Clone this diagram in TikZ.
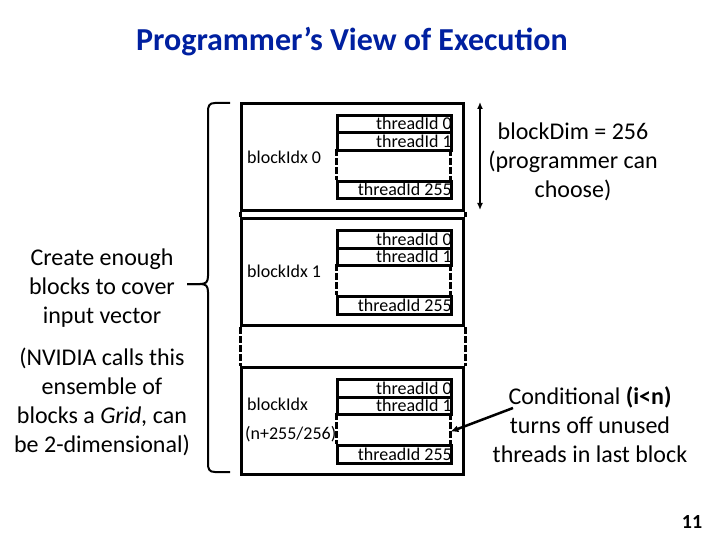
\documentclass[tikz,border=0pt]{standalone}
\usepackage{fontspec}
\setmainfont{Carlito}
\usetikzlibrary{arrows.meta}
\definecolor{titleblue}{RGB}{0,32,160}
\tikzset{
  blk/.style={draw, line width=3pt, inner sep=0pt},
  thr/.style={draw, line width=3pt, inner sep=0pt, minimum width=114, minimum height=17.5},
  gapbox/.style={inner sep=0pt, minimum width=114, minimum height=31},
  dashedside/.style={line width=3pt, dash pattern=on 7pt off 2pt},
  tlabel/.style={inner sep=0pt, anchor=base east, font=\fontsize{18}{21}\selectfont},
  blabel/.style={inner sep=0pt, anchor=west, font=\fontsize{18}{21}\selectfont},
  bigtext/.style={align=center, inner sep=0pt, font=\fontsize{24}{29}\selectfont},
  bracestyle/.style={line width=2pt},
  pointer/.style={line width=2.5pt, -{Latex[length=8pt,width=7pt]}},
}
\newcommand\drawblk[2]{%
  \node[blk, anchor=north west, minimum width=222, minimum height=107] (#1) at (240,#2) {};
  \node[tlabel] (#1l0) at (452,{#2+28}) {threadId 0};
  \node[tlabel] (#1l1) at (452,{#2+45.5}) {threadId 1};
  \node[tlabel] (#1l2) at (452,{#2+94}) {threadId 255};
  \node[thr, anchor=north west] (#1t0) at (336,{#2+12}) {};
  \node[thr, anchor=north west] (#1t1) at (336,{#2+29.5}) {};
  \node[gapbox, anchor=north west] (#1g) at (336,{#2+47}) {};
  \node[thr, anchor=north west] (#1t2) at (336,{#2+78}) {};
  \draw[dashedside] (#1g.north west) -- (#1g.south west) (#1g.north east) -- (#1g.south east);
}
\begin{document}
\begin{tikzpicture}[x=1pt, y=-1pt]
\useasboundingbox (0,0) rectangle (720,540);
\node[font=\fontsize{32}{36}\selectfont\bfseries, text=titleblue] (title) at (352,42) {Programmer’s View of Execution};

\drawblk{b0}{102}
\drawblk{b1}{217}
\drawblk{b2}{366}

\draw[line width=3pt] (b0.south west) -- (b1.north west) (b0.south east) -- (b1.north east);
\draw[dashedside] (b1.south west) -- (b2.north west) (b1.south east) -- (b2.north east);

\node[blabel] (bi0) at (247,157) {blockIdx 0};
\node[blabel] (bi1) at (247,271) {blockIdx 1};
\node[blabel] (bi2) at (247,404) {blockIdx};
\node[blabel] (bi2b) at (245,434) {(n+255/256)};

% brace
\coordinate (brtip) at (187,284);
\draw[bracestyle] (230,103) -- (215,103) .. controls (209,103) and (208,106) .. (208,112) -- (208,276) .. controls (208,282) and (206,284) .. (200,284) -- (brtip);
\draw[bracestyle] (brtip) -- (200,284) .. controls (206,284) and (208,286) .. (208,292) -- (208,463) .. controls (208,469) and (209,472) .. (215,472) -- (230,472);

\node[bigtext] (create) at (102,288) {Create enough\\blocks to cover\\input vector};
\node[bigtext] (nvidia) at (102,402) {(NVIDIA calls this\\ensemble of\\blocks a \textit{Grid,} can\\be 2-dimensional)};

% blockDim arrow
\coordinate (dimtop) at (480,102);
\coordinate (dimbot) at (480,210);
\draw[line width=2.5pt, {Latex[length=7pt,width=6pt]}-{Latex[length=7pt,width=6pt]}] (dimtop) -- (dimbot);
\node[bigtext] (dim) at (573,162) {blockDim = 256\\(programmer can\\choose)};

\node[bigtext] (cond) at (590,425) {Conditional \textbf{(i<n)}\\turns off unused\\threads in last block};
\coordinate (condstart) at (513,408);
\draw[pointer] (condstart) -- ([yshift=-3pt]b2g.east);

\node[font=\fontsize{20}{24}\selectfont\bfseries] (pagenum) at (692,522) {11};
\end{tikzpicture}
\end{document}
